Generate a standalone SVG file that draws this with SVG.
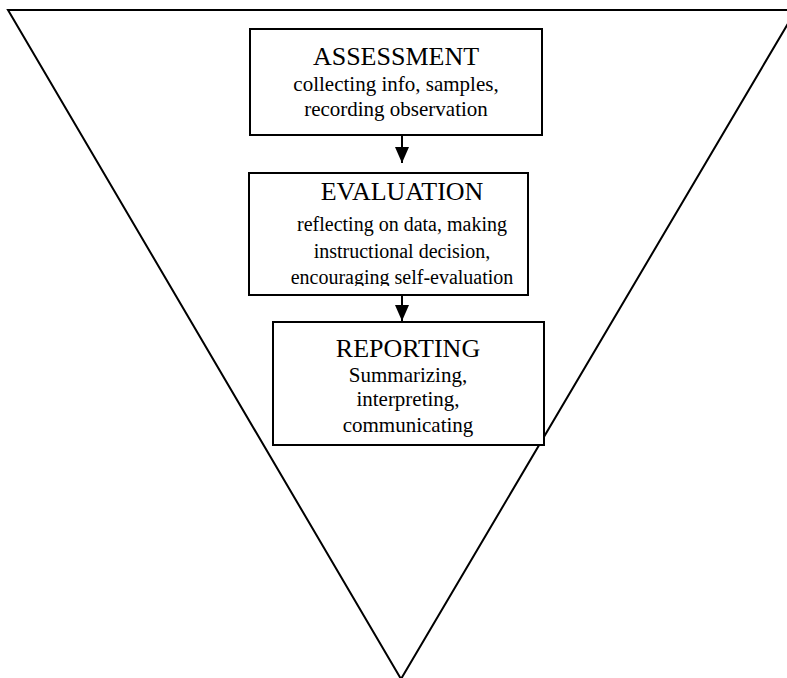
<svg xmlns="http://www.w3.org/2000/svg" width="787" height="678" viewBox="0 0 787 678">
  <style>
    .box { fill: #ffffff; stroke: #000000; stroke-width: 2; }
    .frame { fill: none; stroke: #000000; stroke-width: 2; stroke-linejoin: miter; }
    .title { font-family: "Liberation Serif", "Times New Roman", serif; font-size: 26px; fill: #000000; text-anchor: middle; }
    .sub { font-family: "Liberation Serif", "Times New Roman", serif; font-size: 21px; fill: #000000; text-anchor: middle; }
    .sub-sm { font-size: 20px; }
    .link { stroke: #000000; stroke-width: 2; fill: none; }
  </style>
  <defs>
    <marker id="arrow" viewBox="0 0 16 14" refX="16" refY="7" markerWidth="16" markerHeight="14" markerUnits="userSpaceOnUse" orient="auto">
      <path d="M0,0 L16,7 L0,14 Z" fill="#000000"/>
    </marker>
    <clipPath id="evalClip">
      <rect x="249" y="173" width="279" height="113"/>
    </clipPath>
  </defs>

  <rect width="787" height="678" fill="#ffffff"/>

  <!-- inverted triangle frame -->
  <g id="funnel">
    <polygon class="frame" points="8,10 796,10 401,679"/>
  </g>

  <g id="assessment">
    <rect class="box" x="250" y="29" width="292" height="106"/>
    <text class="title" x="396" y="65">ASSESSMENT</text>
    <text class="sub" x="396" y="91">collecting info, samples,</text>
    <text class="sub" x="396" y="116">recording observation</text>
  </g>

  <g id="evaluation">
    <rect class="box" x="249" y="173" width="279" height="122"/>
    <g clip-path="url(#evalClip)">
      <text class="title" x="402" y="200">EVALUATION</text>
      <text class="sub sub-sm" x="402" y="231">reflecting on data, making</text>
      <text class="sub sub-sm" x="402" y="258">instructional decision,</text>
      <text class="sub sub-sm" x="402" y="284">encouraging self-evaluation</text>
    </g>
  </g>

  <g id="reporting">
    <rect class="box" x="273" y="322" width="271" height="123"/>
    <text class="title" x="408" y="357">REPORTING</text>
    <text class="sub" x="408" y="382">Summarizing,</text>
    <text class="sub" x="408" y="406">interpreting,</text>
    <text class="sub" x="408" y="432">communicating</text>
  </g>

  <g id="connectors">
    <line class="link" x1="402" y1="135" x2="402" y2="163" marker-end="url(#arrow)"/>
    <line class="link" x1="402" y1="295" x2="402" y2="321" marker-end="url(#arrow)"/>
  </g>
</svg>
